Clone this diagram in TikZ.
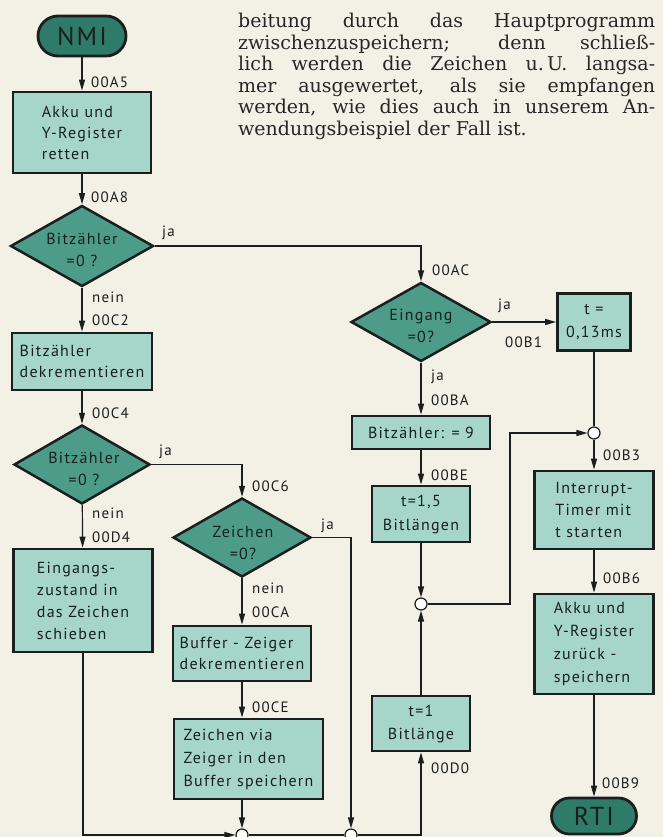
\documentclass[tikz,border=0pt]{standalone}
\usepackage{fontspec}
\setmainfont{DejaVu Serif}
\newfontfamily\flowfont{PT Sans}[LetterSpace=8]
\usetikzlibrary{arrows.meta,shapes.geometric,calc}
\definecolor{paper}{HTML}{F3F0E6}
\definecolor{ink}{HTML}{1A1F1D}
\definecolor{boxfill}{HTML}{A6D6CA}
\definecolor{diafill}{HTML}{4C9C89}
\definecolor{termfill}{HTML}{2F7B69}
\definecolor{ptext}{HTML}{262626}
\begin{document}
\begin{tikzpicture}[x=1pt,y=-1pt,
  box/.style={rectangle, draw=ink, line width=2.8pt, fill=boxfill, inner sep=0pt, text=ink, align=center, font=\flowfont\fontsize{16}{21}\selectfont},
  lbox/.style={box, align=left},
  dia/.style={diamond, draw=ink, line width=2.5pt, fill=diafill, inner sep=0pt},
  dtext/.style={inner sep=0pt, text=ink, align=center, font=\flowfont\fontsize{16}{22}\selectfont},
  term/.style={rectangle, draw=ink, line width=2.8pt, fill=termfill, inner sep=0pt, text=ink, font=\flowfont\fontsize{26}{30}\selectfont},
  conn/.style={draw=ink, line width=1.2pt},
  arr/.style={conn, -{Triangle[length=11pt,width=6pt]}},
  lbl/.style={anchor=west, inner sep=0pt, text=ink, font=\flowfont\fontsize{15}{18}\selectfont},
  jn/.style={circle, draw=ink, line width=1.2pt, fill=white, minimum size=12pt, inner sep=0pt},
  ptx/.style={anchor=base west, inner sep=0pt, text=ptext, font=\fontsize{19}{21}\selectfont}
]
\clip (0,0) rectangle (663,837);
\fill[paper] (0,0) rectangle (663,837);

% paragraph
\node[ptx] (p1) at (238,28) {\makebox[417pt][s]{beitung durch das Hauptprogramm}};
\node[ptx] (p2) at (238,49.5) {\makebox[417pt][s]{zwischenzuspeichern; denn schließ-}};
\node[ptx] (p3) at (238,71) {\makebox[417pt][s]{lich werden die Zeichen u.\,U. langsa-}};
\node[ptx] (p4) at (238,92.5) {\makebox[417pt][s]{mer ausgewertet, als sie empfangen}};
\node[ptx] (p5) at (238,114) {\makebox[417pt][s]{werden, wie dies auch in unserem An-}};
\node[ptx] (p6) at (238,135.5) {wendungsbeispiel der Fall ist.};

% left column
\node[term, minimum width=88pt, minimum height=40pt, rounded corners=20pt] (NMI) at (82,36) {NMI};
\node[lbox, minimum width=138pt, minimum height=81pt] (A) at (82,132.5) {Akku und\\Y-Register\\retten};
\node[dia, minimum width=143pt, minimum height=81pt] (D1) at (82,246) {};
\node[dtext] (D1t) at (82,250) {Bitzähler\\=0 ?};
\node[lbox, minimum width=140pt, minimum height=57pt] (B) at (82,361.5) {Bitzähler\\dekrementieren};
\node[dia, minimum width=136pt, minimum height=79pt] (D2) at (82,464.5) {};
\node[dtext] (D2t) at (84,469) {Bitzähler\\=0 ?};
\node[lbox, minimum width=139pt, minimum height=103pt, font=\flowfont\fontsize{16}{22}\selectfont] (C) at (83,600.5) {Eingangs-\\zustand in\\das Zeichen\\schieben};

% second column
\node[dia, minimum width=138pt, minimum height=79pt] (D3) at (242,537.5) {};
\node[dtext] (D3t) at (243,543) {Zeichen\\=0?};
\node[lbox, minimum width=138pt, minimum height=55pt] (D) at (242,653.5) {Buffer - Zeiger\\dekrementieren};
\node[lbox, minimum width=149pt, minimum height=80pt, font=\flowfont\fontsize{16}{23}\selectfont] (E) at (248.5,759) {Zeichen via\\Zeiger in den\\Buffer speichern};

% third column
\node[dia, minimum width=140pt, minimum height=79pt] (D4) at (421,322) {};
\node[dtext] (D4t) at (421,326) {Eingang\\=0?};
\node[box, minimum width=138pt, minimum height=33pt] (G) at (421,432.5) {Bitzähler: = 9};
\node[box, minimum width=98pt, minimum height=56pt, font=\flowfont\fontsize{16}{24}\selectfont] (H) at (421,514) {t=1,5\\Bitlängen};
\node[box, minimum width=98pt, minimum height=55pt, font=\flowfont\fontsize{16}{23}\selectfont] (K) at (421,723.5) {t=1\\Bitlänge};

% right column
\node[box, minimum width=73pt, minimum height=57pt, font=\flowfont\fontsize{16}{23}\selectfont] (F) at (594,322) {t =\\0,13ms};
\node[lbox, minimum width=119pt, minimum height=78pt, font=\flowfont\fontsize{16}{22}\selectfont] (I) at (594,510) {Interrupt-\\Timer mit\\t starten};
\node[lbox, minimum width=119pt, minimum height=100pt, font=\flowfont\fontsize{16}{23}\selectfont] (J) at (594,644) {Akku und\\Y-Register\\zurück -\\speichern};
\node[term, minimum width=85pt, minimum height=36pt, rounded corners=18pt] (RTI) at (594,816) {RTI};

% junctions
\node[jn] (c1) at (594,433) {};
\node[jn] (c2) at (421,604) {};
\node[jn] (c3) at (242,835) {};
\node[jn] (c4) at (351,835) {};
\coordinate (bend) at (510,433);

% connectors
\draw[arr] (NMI) -- (A);
\draw[arr] (A) -- (D1);
\draw[arr] (D1.east) -| (D4.north);
\draw[arr] (D1) -- (B);
\draw[arr] (B) -- (D2);
\draw[arr] (D2.east) -| (D3.north);
\draw[arr] (D2) -- (C);
\draw[arr] (D3.east) -| (c4.north);
\draw[arr] (D3) -- (D);
\draw[arr] (D.south) -- (D.south |- E.north);
\draw[arr] (E.south -| D.south) -- (c3.north);
\draw[arr] (C.south) |- (c3.west);
\draw[conn] (c3.east) -- (c4.west);
\draw[arr] (c4.east) -| (K.south);
\draw[arr] (K.north) -- (c2.south);
\draw[arr] (H.south) -- (c2.north);
\draw[arr] (c2.east) -| (bend) -- (c1.west);
\draw[arr] (D4.east) -- (F.west);
\draw[arr] (D4) -- (G);
\draw[arr] (G) -- (H);
\draw[conn] (F.south) -- (c1.north);
\draw[arr] (c1.south) -- (I.north);
\draw[arr] (I) -- (J);
\draw[arr] (J) -- (RTI);

% labels
\node[lbl] (l1) at (91,82) {00A5};
\node[lbl] (l2) at (91,197) {00A8};
\node[lbl] (l3) at (162,233) {ja};
\node[lbl] (l4) at (432,270) {00AC};
\node[lbl] (l5) at (92,297) {nein};
\node[lbl] (l6) at (92,320) {00C2};
\node[lbl] (l7) at (92,413) {00C4};
\node[lbl] (l8) at (159,452) {ja};
\node[lbl] (l9) at (252,486) {00C6};
\node[lbl] (l10) at (92,513) {nein};
\node[lbl] (l11) at (92,537) {00D4};
\node[lbl] (l12) at (321,526) {ja};
\node[lbl] (l13) at (252,588) {nein};
\node[lbl] (l14) at (252,612) {00CA};
\node[lbl] (l15) at (252,707) {00CE};
\node[lbl] (l16) at (498,306) {ja};
\node[lbl] (l17) at (505,342) {00B1};
\node[lbl] (l18) at (431,377) {ja};
\node[lbl] (l19) at (431,400) {00BA};
\node[lbl] (l20) at (431,475) {00BE};
\node[lbl] (l21) at (603,455) {00B3};
\node[lbl] (l22) at (603,578) {00B6};
\node[lbl] (l23) at (431,768) {00D0};
\node[lbl] (l24) at (602,783) {00B9};
\end{tikzpicture}
\end{document}
